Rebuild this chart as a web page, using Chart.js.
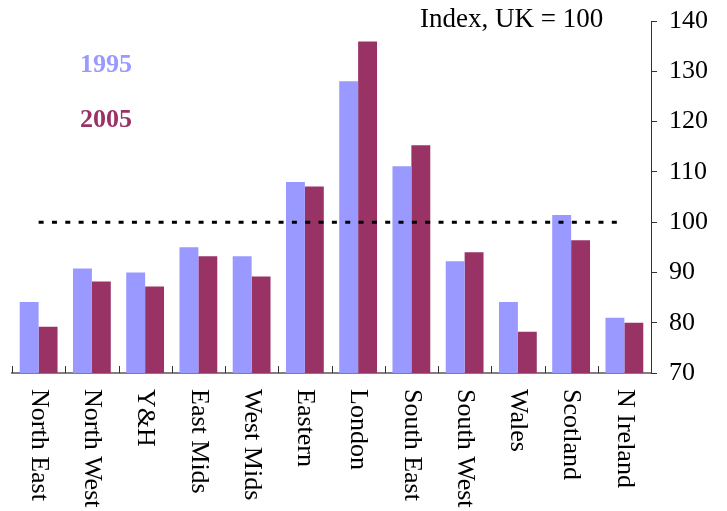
<!DOCTYPE html>
<html>
<head>
<meta charset="utf-8">
<script src="https://cdn.jsdelivr.net/npm/chart.js@4"></script>
<style>
  body { margin: 0; background: #fff; }
</style>
</head>
<body>
<canvas id="region_chart" width="727" height="511"></canvas>
<script>
const regions = ["North East", "North West", "Y&H", "East Mids", "West Mids", "Eastern",
  "London", "South East", "South West", "Wales", "Scotland", "N Ireland"];
const index1995 = [84.1, 90.8, 90.0, 95.0, 93.2, 108.0, 128.0, 111.1, 92.2, 84.1, 101.4, 81.0];
const index2005 = [79.2, 88.2, 87.2, 93.2, 89.2, 107.1, 135.9, 115.3, 94.0, 78.2, 96.4, 80.0];
const ukLine = [100, 100, 100, 100, 100, 100, 100, 100, 100, 100, 100, 100];
const yTicks = { min: 70, max: 140, step: 10 };
const unitText = "Index, UK = 100";
const seriesNames = ["1995", "2005"];
const colours = ["#9999FF", "#993366"];

Chart.defaults.font.family = "'Liberation Serif', 'Times New Roman', serif";
Chart.defaults.color = "#000";

// ticks pointing up, labels turned clockwise, legend and unit text
const extras = {
  id: "extras",
  afterDraw(chart) {
    const ctx = chart.ctx;
    const x = chart.scales.x;
    const y0 = x.top;
    ctx.save();
    ctx.strokeStyle = "#333";
    ctx.lineWidth = 1;
    for (let i = 0; i <= regions.length; i++) {
      const px = Math.round(x.getPixelForValue(i - 0.5)) + 0.5;
      ctx.beginPath();
      ctx.moveTo(px, y0);
      ctx.lineTo(px, y0 - 7);
      ctx.stroke();
    }
    ctx.fillStyle = "#000";
    ctx.font = "26px 'Liberation Serif'";
    ctx.textAlign = "left";
    ctx.textBaseline = "middle";
    regions.forEach((r, i) => {
      ctx.save();
      ctx.translate(x.getPixelForValue(i), y0 + 16);
      ctx.rotate(Math.PI / 2);
      ctx.fillText(r, 0, 0);
      ctx.restore();
    });
    ctx.textBaseline = "alphabetic";
    ctx.font = "27px 'Liberation Serif'";
    ctx.fillText(unitText, 420, 27);
    ctx.font = "bold 26px 'Liberation Serif'";
    ctx.fillStyle = colours[0];
    ctx.fillText(seriesNames[0], 80, 72);
    ctx.fillStyle = colours[1];
    ctx.fillText(seriesNames[1], 80, 127);
    ctx.restore();
  }
};

new Chart(document.getElementById("region_chart").getContext("2d"), {
  type: "bar",
  data: {
    labels: regions,
    datasets: [
      {
        type: "line",
        label: "UK",
        data: ukLine,
        borderColor: "#000",
        borderWidth: 3,
        borderDash: [5, 8.33],
        borderCapStyle: "butt",
        pointRadius: 0,
        fill: false,
        order: 0,
      },
      {
        label: seriesNames[0],
        data: index1995,
        backgroundColor: colours[0],
        categoryPercentage: 0.71,
        barPercentage: 1,
        order: 1,
      },
      {
        label: seriesNames[1],
        data: index2005,
        backgroundColor: colours[1],
        categoryPercentage: 0.71,
        barPercentage: 1,
        order: 1,
      },
    ],
  },
  options: {
    responsive: false,
    animation: false,
    layout: { autoPadding: false, padding: { left: 12, right: 7, top: 21, bottom: 130 } },
    plugins: {
      legend: { display: false },
      tooltip: { enabled: false },
    },
    scales: {
      x: {
        grid: { display: false },
        ticks: { display: false },
        border: { color: "#808080", width: 2 },
      },
      y: {
        position: "right",
        min: yTicks.min,
        max: yTicks.max,
        ticks: { stepSize: yTicks.step, font: { size: 26, lineHeight: 0.6 }, color: "#000", padding: 12 },
        grid: { drawOnChartArea: false, tickLength: 6, color: "#333" },
        border: { color: "#333", width: 1 },
      },
    },
  },
  plugins: [extras],
});
</script>
</body>
</html>
